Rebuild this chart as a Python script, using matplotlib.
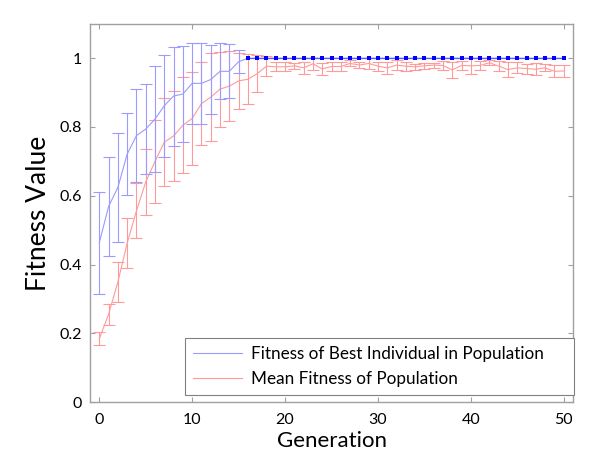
import numpy as np
import matplotlib
matplotlib.use("Agg")
import matplotlib.pyplot as plt
from matplotlib.lines import Line2D

plt.rcParams['font.family'] = ['Lato', 'DejaVu Sans']

generations = list(range(51))

best_fitness = [0.463, 0.569, 0.624, 0.721, 0.775, 0.794, 0.823, 0.862, 0.890, 0.896,
                0.927, 0.927, 0.938, 0.962, 0.962, 0.990] + [1.0] * 35
best_err = [0.149, 0.143, 0.158, 0.119, 0.1345, 0.131, 0.155, 0.148, 0.144, 0.1385,
            0.117, 0.117, 0.101, 0.0815, 0.0785, 0.033] + [0.0] * 35

mean_fitness = [0.184, 0.255, 0.349, 0.462, 0.556, 0.640, 0.700, 0.756, 0.774, 0.805,
                0.825, 0.868, 0.887, 0.910, 0.919, 0.934, 0.939, 0.955, 0.977, 0.975,
                0.975, 0.978, 0.972, 0.984, 0.969, 0.976, 0.976, 0.985, 0.980, 0.985,
                0.977, 0.972, 0.980, 0.977, 0.975, 0.978, 0.980, 0.979, 0.966, 0.979,
                0.978, 0.979, 0.987, 0.977, 0.967, 0.972, 0.970, 0.968, 0.972, 0.962,
                0.963]
mean_err = [0.0195, 0.031, 0.059, 0.0725, 0.080, 0.0965, 0.120, 0.128, 0.1315, 0.140,
            0.1355, 0.120, 0.1275, 0.109, 0.103, 0.082, 0.072, 0.0535, 0.0285, 0.0135,
            0.0135, 0.0095, 0.018, 0.018, 0.0165, 0.0125, 0.0125, 0.0085, 0.0095, 0.0165,
            0.0135, 0.0185, 0.0135, 0.0135, 0.0085, 0.0095, 0.0075, 0.013, 0.024, 0.013,
            0.024, 0.013, 0.008, 0.0145, 0.023, 0.016, 0.0145, 0.017, 0.0105, 0.017,
            0.017]

x_ticks = [0, 10, 20, 30, 40, 50]
y_ticks = [0, 0.2, 0.4, 0.6, 0.8, 1.0]
y_tick_labels = ['0', '0.2', '0.4', '0.6', '0.8', '1']

labels = ['Fitness of Best Individual in Population', 'Mean Fitness of Population']

blue = '#9a9aff'
red = '#ff9a9a'

fig = plt.figure(figsize=(6.0, 4.68), dpi=100)
ax = fig.add_axes([0.15, 0.141, 0.805, 0.808])

# mean fitness with error bars
ax.plot(generations, mean_fitness, color=red, lw=0.8, zorder=2)
ax.errorbar(generations, mean_fitness, yerr=mean_err, fmt='none', ecolor=red,
            elinewidth=0.8, capsize=4, capthick=0.8, zorder=2)

# best fitness with error bars (only where spread is non-zero)
nz_x = [g for g, e in zip(generations, best_err) if e > 0]
nz_y = [b for b, e in zip(best_fitness, best_err) if e > 0]
nz_e = [e for e in best_err if e > 0]
ax.plot(generations, best_fitness, color=blue, lw=0.8, zorder=3)
ax.errorbar(nz_x, nz_y, yerr=nz_e, fmt='none', ecolor=blue,
            elinewidth=0.8, capsize=4, capthick=0.8, zorder=3)

opt_x = [g for g, b in zip(generations, best_fitness) if b >= 1.0]
opt_y = [b for b in best_fitness if b >= 1.0]
ax.plot(opt_x, opt_y, color='#5a5aff', lw=0.9, zorder=3.5)
ax.plot(opt_x, opt_y, ls='none', marker='s', ms=2.6, mew=0, color='#0000ff', zorder=4)

ax.set_xlim(-1, 51)
ax.set_ylim(0, 1.1)
ax.set_xticks(x_ticks)
ax.set_yticks(y_ticks)
ax.set_yticklabels(y_tick_labels)

ax.tick_params(direction='in', length=3.6, width=0.8, color='#a0a0a0',
               top=True, right=True, labelsize=11.5, pad=6)
ax.tick_params(axis='x', pad=8)
for s in ax.spines.values():
    s.set_color('#a0a0a0')
    s.set_linewidth(1.0)

ax.set_xlabel('Generation', fontsize=16, labelpad=3)
ax.set_ylabel('Fitness Value', fontsize=19, labelpad=6)

handles = [Line2D([], [], color=blue, lw=0.8), Line2D([], [], color=red, lw=0.8)]
leg = ax.legend(handles, labels, loc='lower left',
                bbox_to_anchor=(0.1967, 0.0185, 0.805, 0.1), mode='expand',
                borderaxespad=0, fontsize=12.3, fancybox=False, framealpha=1,
                edgecolor='#808080', handlelength=2.9, labelspacing=0.55,
                borderpad=0.45, handletextpad=0.5)
leg.get_frame().set_linewidth(0.8)

fig.savefig('out.png', dpi=100)
